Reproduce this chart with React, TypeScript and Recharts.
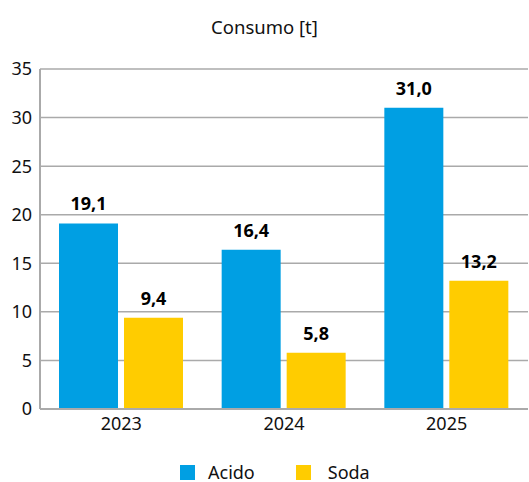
import { BarChart, Bar, XAxis, YAxis, CartesianGrid, LabelList } from "recharts";

const years = ["2023", "2024", "2025"];
const acido = [19.1, 16.4, 31.0];
const soda = [9.4, 5.8, 13.2];
const yTicks = [0, 5, 10, 15, 20, 25, 30, 35];

const data = years.map((year, i) => ({ year, acido: acido[i], soda: soda[i] }));

const BLUE = "#009fe3";
const YELLOW = "#ffcc00";
const FONT = "'Noto Sans', 'Open Sans', sans-serif";

const fmt = (v: any) => Number(v).toFixed(1).replace(".", ",");

export default function App() {
  return (
    <div
      style={{
        position: "fixed",
        top: 0,
        left: 0,
        width: 529,
        height: 482,
        overflow: "hidden",
        fontFamily: FONT,
        background: "#fff",
      }}
    >
      <div
        style={{
          position: "absolute",
          top: 13,
          left: 0,
          width: 529,
          textAlign: "center",
          fontSize: 18.5,
          lineHeight: "28px",
          color: "#111",
        }}
      >
        Consumo [t]
      </div>
      <BarChart
        width={529}
        height={482}
        data={data}
        margin={{ top: 69, right: 1, left: 0, bottom: 43 }}
        barGap={6}
        barCategoryGap={19}
      >
        <CartesianGrid vertical={false} stroke="#aaaaaa" strokeWidth={1.5} />
        <XAxis
          dataKey="year"
          height={30}
          tickLine={false}
          axisLine={{ stroke: "#aaaaaa", strokeWidth: 2 }}
          tick={{ fill: "#111", fontSize: 18, fontFamily: FONT }}
        />
        <YAxis
          width={40}
          domain={[0, 35]}
          ticks={yTicks}
          interval={0}
          tickLine={false}
          axisLine={{ stroke: "#aaaaaa", strokeWidth: 2 }}
          tick={{ fill: "#111", fontSize: 18, fontFamily: FONT }}
        />
        <Bar dataKey="acido" fill={BLUE} isAnimationActive={false}>
          <LabelList
            dataKey="acido"
            position="top"
            offset={13}
            formatter={fmt}
            style={{ fill: "#000", fontSize: 18, fontWeight: 700, fontFamily: FONT }}
          />
        </Bar>
        <Bar dataKey="soda" fill={YELLOW} isAnimationActive={false}>
          <LabelList
            dataKey="soda"
            position="top"
            offset={13}
            formatter={fmt}
            style={{ fill: "#000", fontSize: 18, fontWeight: 700, fontFamily: FONT }}
          />
        </Bar>
      </BarChart>
      <div
        style={{
          position: "absolute",
          top: 463,
          left: 180,
          height: 19,
          display: "flex",
          alignItems: "center",
          fontSize: 18,
          lineHeight: "19px",
          color: "#111",
        }}
      >
        <span style={{ width: 15, height: 15, background: BLUE, display: "inline-block", marginRight: 13 }} />
        <span style={{ marginRight: 41 }}>Acido</span>
        <span style={{ width: 15, height: 15, background: YELLOW, display: "inline-block", marginRight: 17 }} />
        <span>Soda</span>
      </div>
    </div>
  );
}
